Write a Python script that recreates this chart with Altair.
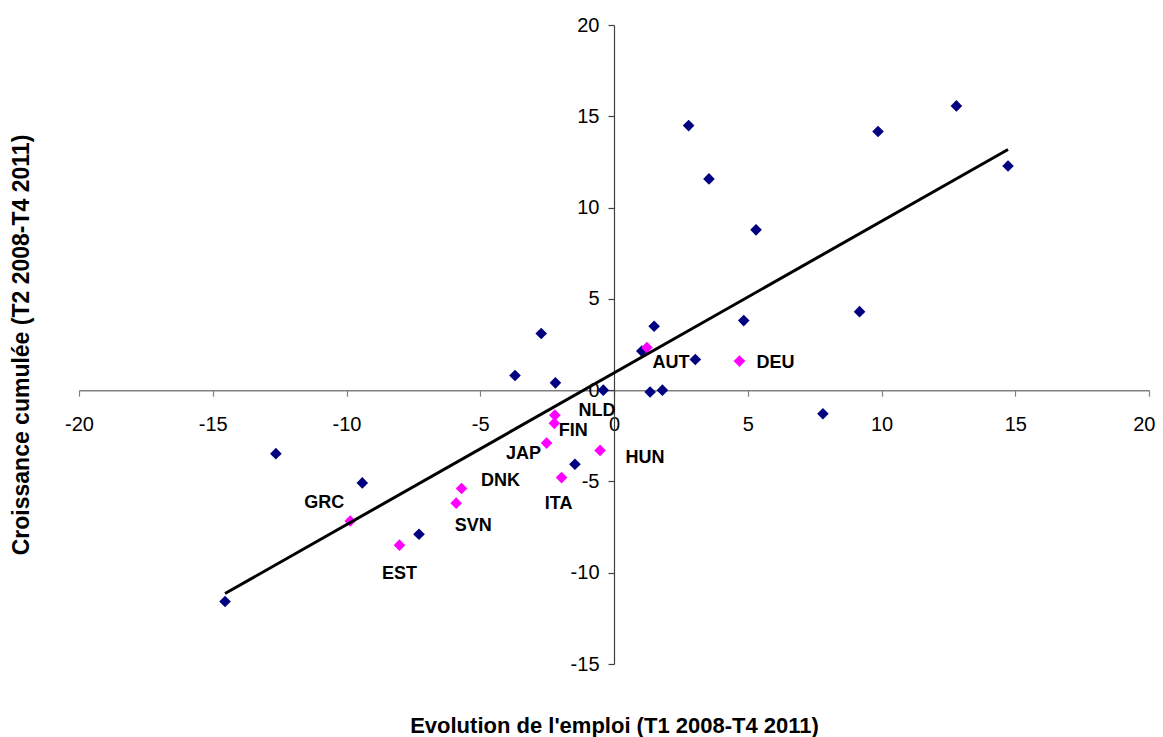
import altair as alt
import pandas as pd

# ---- data ----
blue_x = [-14.54, -12.64, -9.41, -7.29, -3.70, -2.72, -2.19, -1.46, -0.40,
          1.04, 1.35, 1.50, 1.81, 2.79, 3.04, 3.55, 4.85, 5.31, 7.81, 9.18,
          9.87, 12.80, 14.73]
blue_y = [-11.58, -3.48, -5.08, -7.89, 0.80, 3.10, 0.40, -4.06, 0.00,
          2.14, -0.10, 3.50, 0.00, 14.49, 1.68, 11.57, 3.81, 8.78, -1.29, 4.30,
          14.17, 15.57, 12.28]

mag_labels = ["GRC", "EST", "SVN", "DNK", "NLD", "FIN", "JAP", "ITA", "HUN", "AUT", "DEU"]
mag_x = [-9.86, -8.02, -5.90, -5.70, -2.21, -2.23, -2.52, -1.96, -0.52, 1.23, 4.69]
mag_y = [-7.17, -8.49, -6.19, -5.39, -1.37, -1.82, -2.90, -4.79, -3.30, 2.33, 1.59]

x_ticks = [-20, -15, -10, -5, 0, 5, 10, 15, 20]
y_ticks = [-15, -10, -5, 0, 5, 10, 15, 20]

x_title = "Evolution de l'emploi (T1 2008-T4 2011)"
y_title = "Croissance cumulée (T2 2008-T4 2011)"

# label offsets in pixels (styling)
label_offsets = {
    "GRC": (-26, -18), "EST": (0, 29), "SVN": (17, 23), "DNK": (39, -8),
    "NLD": (42, -4), "FIN": (19, 8), "JAP": (-23, 11), "ITA": (-3, 26),
    "HUN": (45, 8), "AUT": (24, 15), "DEU": (36, 2),
}

FONT = "Liberation Sans"
W, H = 1070, 639
X_MIN, X_MAX = -20, 20
Y_MIN, Y_MAX = -15, 20

df_blue = pd.DataFrame({"x": blue_x, "y": blue_y})
df_mag = pd.DataFrame({"x": mag_x, "y": mag_y, "pays": mag_labels})
df_all = pd.concat([df_blue, df_mag[["x", "y"]]], ignore_index=True)

xscale = alt.Scale(domain=[X_MIN, X_MAX], nice=False, zero=False)
yscale = alt.Scale(domain=[Y_MIN, Y_MAX], nice=False, zero=False)

x_axis_offset = -(H - H * (Y_MAX - 0) / (Y_MAX - Y_MIN))
y_axis_offset = -(W * (0 - X_MIN) / (X_MAX - X_MIN))

last_x = f"datum.value == {X_MAX}"
xaxis = alt.Axis(values=x_ticks, title=None, grid=False, offset=x_axis_offset,
                 domainColor="#808080", domainWidth=1.5, tickColor="#808080",
                 tickWidth=1.2, tickSize=6, labelFont=FONT, labelFontSize=20,
                 labelColor="#000000", labelPadding=18, labelFlush=False,
                 labelOverlap=False, labelExpr="'' + datum.value",
                 labelAlign={"condition": {"test": last_x, "value": "right"}, "value": "center"},
                 labelOffset={"condition": {"test": last_x, "value": 6}, "value": 0})
yaxis = alt.Axis(values=y_ticks, title=None, grid=False, offset=y_axis_offset,
                 domainColor="#404040", domainWidth=1.2, tickColor="#404040",
                 tickWidth=1.2, tickSize=6, labelFont=FONT, labelFontSize=20,
                 labelColor="#000000", labelPadding=9, labelFlush=False,
                 labelOverlap=False, labelExpr="'' + datum.value")

base_axes = alt.Chart(df_all).mark_point(opacity=0).encode(
    x=alt.X("x:Q", scale=xscale, axis=xaxis),
    y=alt.Y("y:Q", scale=yscale, axis=yaxis),
)

blue_pts = alt.Chart(df_blue).mark_point(
    shape="diamond", filled=True, size=135, color="#000080", opacity=1
).encode(x=alt.X("x:Q", scale=xscale), y=alt.Y("y:Q", scale=yscale))

mag_pts = alt.Chart(df_mag).mark_point(
    shape="diamond", filled=True, size=135, color="#FF00FF", opacity=1
).encode(x=alt.X("x:Q", scale=xscale), y=alt.Y("y:Q", scale=yscale))

trend = alt.Chart(df_all).transform_regression("x", "y").mark_line(
    color="#000000", strokeWidth=3
).encode(x=alt.X("x:Q", scale=xscale), y=alt.Y("y:Q", scale=yscale))

label_layers = []
for name, (dx, dy) in label_offsets.items():
    label_layers.append(
        alt.Chart(df_mag).transform_filter(alt.datum.pays == name).mark_text(
            font=FONT, fontSize=18, fontWeight="bold", color="#000000",
            dx=dx, dy=dy, align="center", baseline="middle"
        ).encode(x=alt.X("x:Q", scale=xscale), y=alt.Y("y:Q", scale=yscale),
                 text="pays:N")
    )

title_df = pd.DataFrame({"t": [x_title]})
xt = alt.Chart(title_df).mark_text(
    font=FONT, fontSize=22, fontWeight="bold", color="#000000",
    align="center", baseline="alphabetic"
).encode(x=alt.value(W / 2 + 0.5), y=alt.value(708), text="t:N")

ytitle_df = pd.DataFrame({"t": [y_title]})
yt = alt.Chart(ytitle_df).mark_text(
    font=FONT, fontSize=23, fontWeight="bold", color="#000000",
    align="center", baseline="middle", angle=270
).encode(x=alt.value(-57), y=alt.value(320), text="t:N")

chart = alt.layer(base_axes, blue_pts, mag_pts, trend, *label_layers, xt, yt).properties(
    width=W, height=H,
    padding={"left": 71, "top": 17, "right": 6, "bottom": 73},
    autosize=alt.AutoSizeParams(type="none"),
).configure(background="#ffffff").configure_view(stroke=None)

chart.save("out.html", embed_options={"renderer": "svg", "actions": False})
